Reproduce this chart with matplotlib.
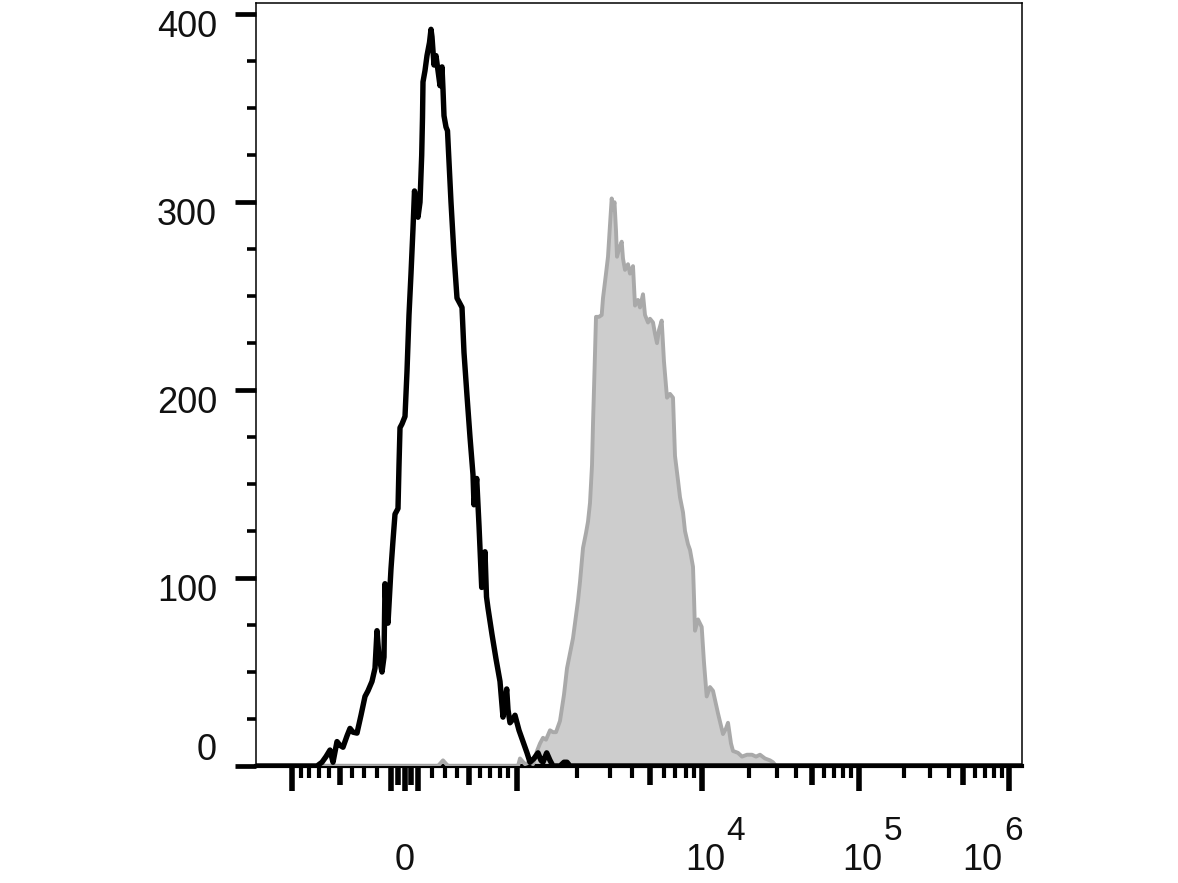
import numpy as np
import matplotlib
matplotlib.use("Agg")
import matplotlib.pyplot as plt

# ---------------- data (display channel of a biexponential FL axis, count) ----------------
black_channel = [0, 61, 66, 70, 74, 77, 81, 84, 87, 91, 94, 97, 101, 105, 109, 112, 116, 119, 121,
                 123, 126, 128, 129, 130.5, 132, 135, 137, 139, 142, 143, 144, 146, 149, 151, 153,
                 155, 157, 158.5, 160, 162, 164, 165.7, 166.5, 167, 169, 171, 173.5, 175, 176, 178,
                 180, 182, 184, 186, 187, 188, 190, 191.5, 192.5, 195, 198, 201, 203, 206, 208, 211,
                 214, 217, 218, 220.7, 223, 225.7, 227.5, 229, 230.5, 232, 236, 240, 244, 247, 249,
                 250.7, 252, 254, 257, 259, 263, 267, 271, 274, 278, 282, 285, 287, 290.7, 294, 297,
                 304, 308, 311, 314, 766]
black_count = [0, 0, 2, 5, 8.5, 2, 13, 11, 10, 16, 20, 18, 17.5, 27, 37, 40, 45, 52, 72,
               58, 50, 58, 97, 80, 76, 105, 120, 134, 137, 160, 180, 182, 186, 210, 240,
               262, 286, 306, 300, 292, 300, 325, 345, 364, 370, 378, 385, 392, 388, 373,
               378, 370, 362, 372, 360, 346, 340, 338, 327, 300, 272, 249, 247, 244, 220, 197,
               175, 155, 139, 153, 128, 95, 100, 114, 90, 84, 70, 57, 45, 26, 34,
               41, 30, 23, 25, 27, 19, 13, 7, 2, 4, 7, 3, 2, 7, 3, 0,
               0, 2, 2, 0, 0]

gray_channel = [0, 182, 187, 192, 262, 264, 269, 274, 277, 281, 284, 287, 290, 294, 297, 300, 304,
                308, 311, 314, 317, 320, 322, 324, 327, 330, 332, 334, 336, 337, 338.5, 340, 343,
                345.7, 347, 350, 352, 354, 355.7, 357, 358.5, 360, 361, 363, 365.7, 367, 369, 372,
                374, 377, 379, 382, 384, 387, 389, 392, 394, 397, 399, 401, 403, 405.7, 408, 411,
                414, 417, 419, 422, 424, 427, 429, 432, 434, 437, 438, 439, 442, 445.7, 448, 450.7,
                454, 457, 462, 467, 470, 472, 475, 477, 482, 486, 491, 496, 500, 504, 509, 514,
                517, 520, 766]
gray_count = [0, 0, 3, 0, 0, 4, 1, 2, 1, 8, 12, 15, 14, 19, 18, 18, 24,
              38, 52, 60, 68, 80, 88, 98, 116, 124, 130, 140, 160, 182, 210, 239, 239,
              240, 249, 262, 271, 288, 302, 296, 300, 285, 271, 275, 279, 270, 264, 267,
              262, 266, 245, 248, 244, 251, 240, 236, 238, 236, 230, 225, 232, 237, 215, 196,
              198, 196, 165, 152, 143, 135, 125, 118, 115, 106, 90, 72, 78, 74, 55, 37,
              42, 40, 28, 17, 20, 23, 12, 8, 7, 5, 6, 6, 5, 6, 4, 3,
              2, 0, 0]

y_ticks = [0, 100, 200, 300, 400]
y_tick_labels = ["0", "100", "200", "300", "400"]

x_major_values = [-1000, -100, 0, 100, 1000, 1e4, 1e5, 1e6]
x_medium_values = [-500, -50, 50, 500, 5e3, 5e4, 5e5]
x_minor_values = ([-900, -800, -700, -600, -400, -300, -200]
                  + [200, 300, 400, 600, 700, 800, 900]
                  + [2e3, 3e3, 4e3, 6e3, 7e3, 8e3, 9e3]
                  + [2e4, 3e4, 4e4, 6e4, 7e4, 8e4, 9e4]
                  + [2e5, 3e5, 4e5, 6e5, 7e5, 8e5, 9e5])
x_label_values = [0, 1e4, 1e5, 1e6]
x_label_base = ["0", "10", "10", "10"]
x_label_exponent = ["", "4", "5", "6"]


# ---------------- biexponential display scale: fluorescence value -> channel ----------------
def fl_to_channel(v):
    v = np.asarray(v, dtype=float)
    a = np.abs(v)
    with np.errstate(divide="ignore", invalid="ignore"):
        lin = 96.5 * np.arcsinh(a / 694.0)
        d1 = 112 + 170.1 * np.log10(np.clip(a - 210, 1e-9, None) / 790.0)
        d2 = 298 + 156 * np.log10(np.clip(a, 1e-9, None) / 1e4)
        d3 = 454 + 150 * np.log10(np.clip(a, 1e-9, None) / 1e5)
    p = np.where(a <= 1000, lin, np.where(a <= 1e4, d1, np.where(a <= 1e5, d2, d3)))
    return 148.5 + np.sign(v) * p


# ---------------- figure ----------------
plt.rcParams["font.family"] = ["Liberation Sans", "DejaVu Sans"]
W, H = 1178, 883
fig = plt.figure(figsize=(W / 100, H / 100), dpi=100)
ax = fig.add_axes([256 / W, 1 - 766 / H, (1022 - 256) / W, (766 - 3) / H])

ax.fill_between(gray_channel, gray_count, 0, color="#cdcdcd", lw=0, zorder=2)
ax.plot(gray_channel, gray_count, color="#a9a9a9", lw=2.8, zorder=3)
ax.plot(black_channel, black_count, color="#000000", lw=3.9, zorder=4)

ax.set_xlim(0, 766)
ax.set_ylim(0, 406)

for s in ["top", "right", "left"]:
    ax.spines[s].set_linewidth(1.1)
ax.spines["bottom"].set_linewidth(3.0)

# y ticks
ax.set_yticks(y_ticks)
ax.yaxis.set_minor_locator(matplotlib.ticker.FixedLocator(
    [t for t in np.arange(25, 400, 25) if t % 100 != 0]))
ax.set_yticklabels([])
ax.tick_params(axis="y", which="major", direction="out", length=15, width=3.4, color="black")
ax.tick_params(axis="y", which="minor", direction="out", length=6.5, width=2.6, color="black")

# x ticks (biexponential)
ax.set_xticks(fl_to_channel(x_major_values))
ax.set_xticks(fl_to_channel(x_minor_values), minor=True)
ax.set_xticklabels([])
ax.tick_params(axis="x", which="major", direction="out", length=18, width=4.0, color="black")
ax.tick_params(axis="x", which="minor", direction="out", length=8.5, width=3.0, color="black")
sec = ax.secondary_xaxis("bottom")
sec.set_xticks(fl_to_channel(x_medium_values))
sec.set_xticklabels([])
sec.tick_params(axis="x", which="major", direction="out", length=13.5, width=4.0, color="black")
sec.tick_params(axis="x", which="minor", length=0)
sec.spines["bottom"].set_visible(False)

# y tick labels
for val, lab in zip(y_ticks, y_tick_labels):
    dy = 16 if val == 0 else -13
    ax.annotate(lab, xy=(0, val), xycoords=("axes fraction", "data"),
                xytext=(-39, dy), textcoords="offset pixels",
                ha="right", va="center", fontsize=26, color="#111111")

# x tick labels
base_dx = {0: 0, 1e4: 3, 1e5: 4, 1e6: -26}
exp_dx = {1e4: 33, 1e5: 34, 1e6: 5}
for val, base, ex in zip(x_label_values, x_label_base, x_label_exponent):
    ch = float(fl_to_channel(val))
    ax.annotate(base, xy=(ch, 0), xycoords=("data", "axes fraction"),
                xytext=(base_dx[val], -94), textcoords="offset pixels",
                ha="center", va="center", fontsize=26, color="#111111")
    if ex:
        ax.annotate(ex, xy=(ch, 0), xycoords=("data", "axes fraction"),
                    xytext=(exp_dx[val], -66), textcoords="offset pixels",
                    ha="center", va="center", fontsize=24, color="#111111")

fig.savefig("out.png", dpi=100)
